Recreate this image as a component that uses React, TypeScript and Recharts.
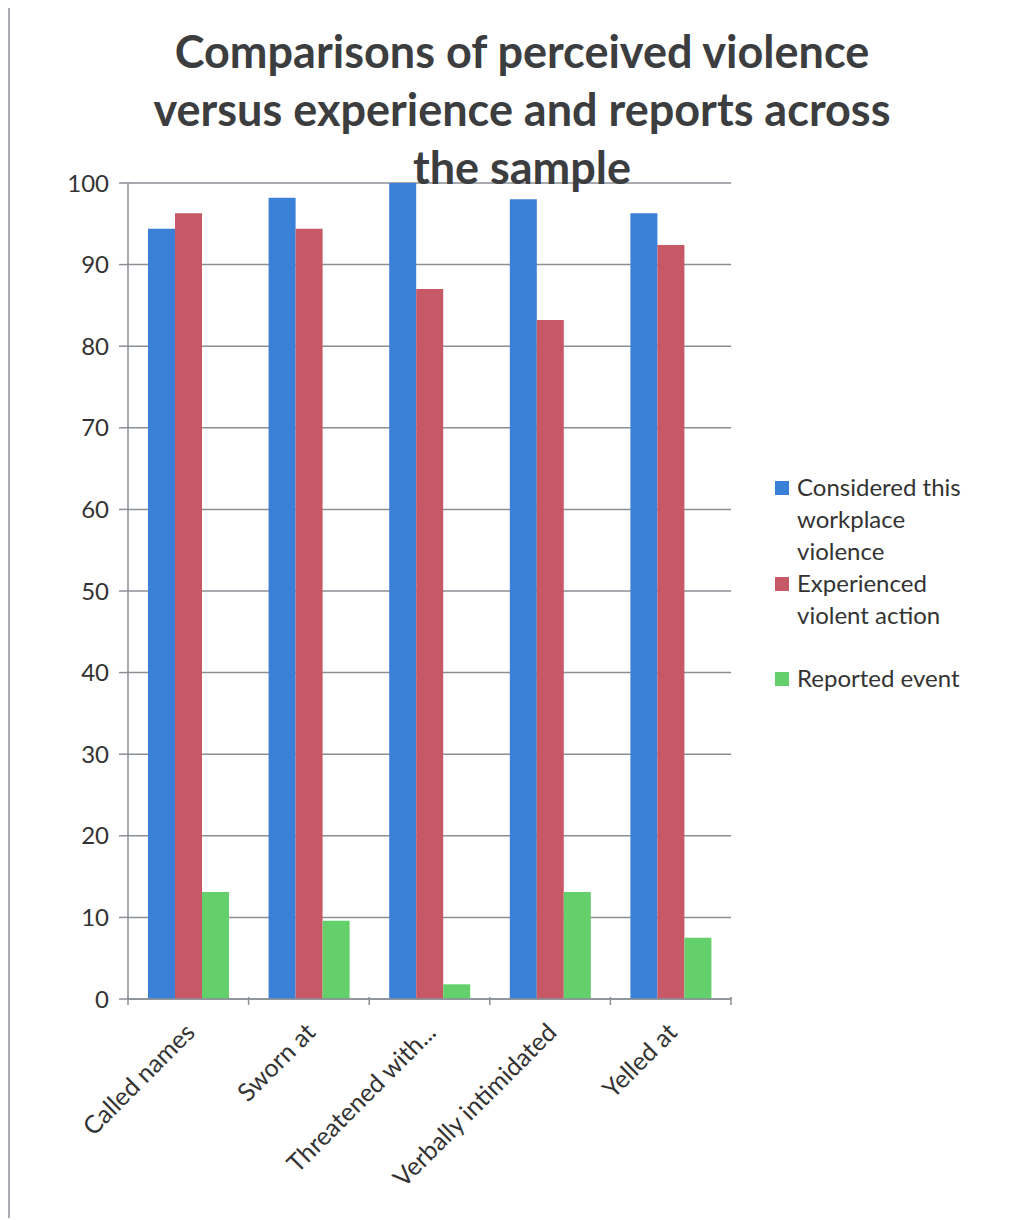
import { BarChart, Bar, XAxis, YAxis, CartesianGrid } from 'recharts'

const categories = ['Called names', 'Sworn at', 'Threatened with...', 'Verbally intimidated', 'Yelled at']
const considered = [94.4, 98.2, 100, 98.0, 96.3]
const experienced = [96.3, 94.4, 87.0, 83.2, 92.4]
const reported = [13.1, 9.6, 1.8, 13.1, 7.5]
const yTicks = [0, 10, 20, 30, 40, 50, 60, 70, 80, 90, 100]

const seriesNames = ['Considered this workplace violence', 'Experienced violent action', 'Reported event']
const seriesColors = ['#3a80d6', '#c75966', '#63d06b']

const titleLines = ['Comparisons of perceived violence', 'versus experience and reports across', 'the sample']

const data = categories.map((name, i) => ({
  name,
  considered: considered[i],
  experienced: experienced[i],
  reported: reported[i],
}))

const W = 1024
const H = 1212
const margin = { top: 176, right: 301, bottom: 210, left: 0 }
const yAxisWidth = 120
const FONT = 'Lato, "Open Sans", sans-serif'
const AXIS = '#8a8f96'
const TEXT = '#333'
const FRAME = '#a9adb3'

const bandHalf = (W - margin.left - margin.right - yAxisWidth) / categories.length / 2

function XTick(props: any) {
  const { x, y, payload, index } = props
  const lx = x + 8
  const ly = y + 27
  return (
    <g>
      <line x1={x - bandHalf} y1={y - 10} x2={x - bandHalf} y2={y - 2} stroke={AXIS} strokeWidth={1.5} />
      {index === categories.length - 1 && (
        <line x1={x + bandHalf} y1={y - 10} x2={x + bandHalf} y2={y - 2} stroke={AXIS} strokeWidth={1.5} />
      )}
      <text
        x={lx}
        y={ly}
        transform={`rotate(-45, ${lx}, ${ly})`}
        textAnchor="end"
        fontFamily={FONT}
        fontSize={25}
        fill={TEXT}
      >
        {payload.value}
      </text>
    </g>
  )
}

const legendLines = [
  ['Considered this', 'workplace', 'violence'],
  ['Experienced', 'violent action'],
  ['Reported event'],
]

export default function App() {
  return (
    <div
      style={{
        position: 'relative',
        top: -2,
        width: W,
        height: H,
        background: '#fff',
        fontFamily: FONT,
      }}
    >
      <div style={{ position: 'absolute', left: 0, top: 0, width: W, height: 2, background: FRAME }} />
      <div style={{ position: 'absolute', left: 0, top: 0, width: 1.5, height: H, background: FRAME }} />
      <div style={{ position: 'absolute', left: 0, top: 1 }}>
        <BarChart width={W} height={H} data={data} margin={margin} barCategoryGap={20} barGap={0}>
          <CartesianGrid vertical={false} stroke={AXIS} strokeWidth={1.5} />
          <XAxis
            dataKey="name"
            interval={0}
            tickLine={false}
            axisLine={{ stroke: AXIS, strokeWidth: 1.5 }}
            tick={<XTick />}
            height={10}
          />
          <YAxis
            width={yAxisWidth}
            domain={[0, 100]}
            ticks={yTicks}
            interval={0}
            tickSize={9}
            tickMargin={10}
            tickLine={{ stroke: AXIS, strokeWidth: 1.5 }}
            axisLine={{ stroke: AXIS, strokeWidth: 1.5 }}
            tick={{ fill: TEXT, fontSize: 24, fontFamily: FONT }}
          />
          <Bar dataKey="considered" name={seriesNames[0]} fill={seriesColors[0]} isAnimationActive={false} />
          <Bar dataKey="experienced" name={seriesNames[1]} fill={seriesColors[1]} isAnimationActive={false} />
          <Bar dataKey="reported" name={seriesNames[2]} fill={seriesColors[2]} isAnimationActive={false} />
        </BarChart>
      </div>

      <div
        style={{
          position: 'absolute',
          left: 0,
          top: 16,
          width: 1024,
          textAlign: 'center',
          transform: 'translateX(2px)',
          pointerEvents: 'none',
        }}
      >
        {titleLines.map((t) => (
          <div
            key={t}
            style={{ fontSize: 45, fontWeight: 700, color: '#3c3d3f', lineHeight: '58px', height: 58 }}
          >
            {t}
          </div>
        ))}
      </div>

      <div style={{ position: 'absolute', left: 767, top: 465 }}>
        {legendLines.map((lines, i) => (
          <div key={seriesNames[i]} style={{ display: 'flex', alignItems: 'flex-start', marginBottom: i === 1 ? 31 : 0 }}>
            <div
              style={{
                width: 14,
                height: 14,
                background: seriesColors[i],
                marginTop: 10,
                marginRight: 8,
              }}
            />
            <div style={{ fontSize: 24, lineHeight: '32px', color: TEXT }}>
              {lines.map((l) => (
                <div key={l}>{l}</div>
              ))}
            </div>
          </div>
        ))}
      </div>
    </div>
  )
}
